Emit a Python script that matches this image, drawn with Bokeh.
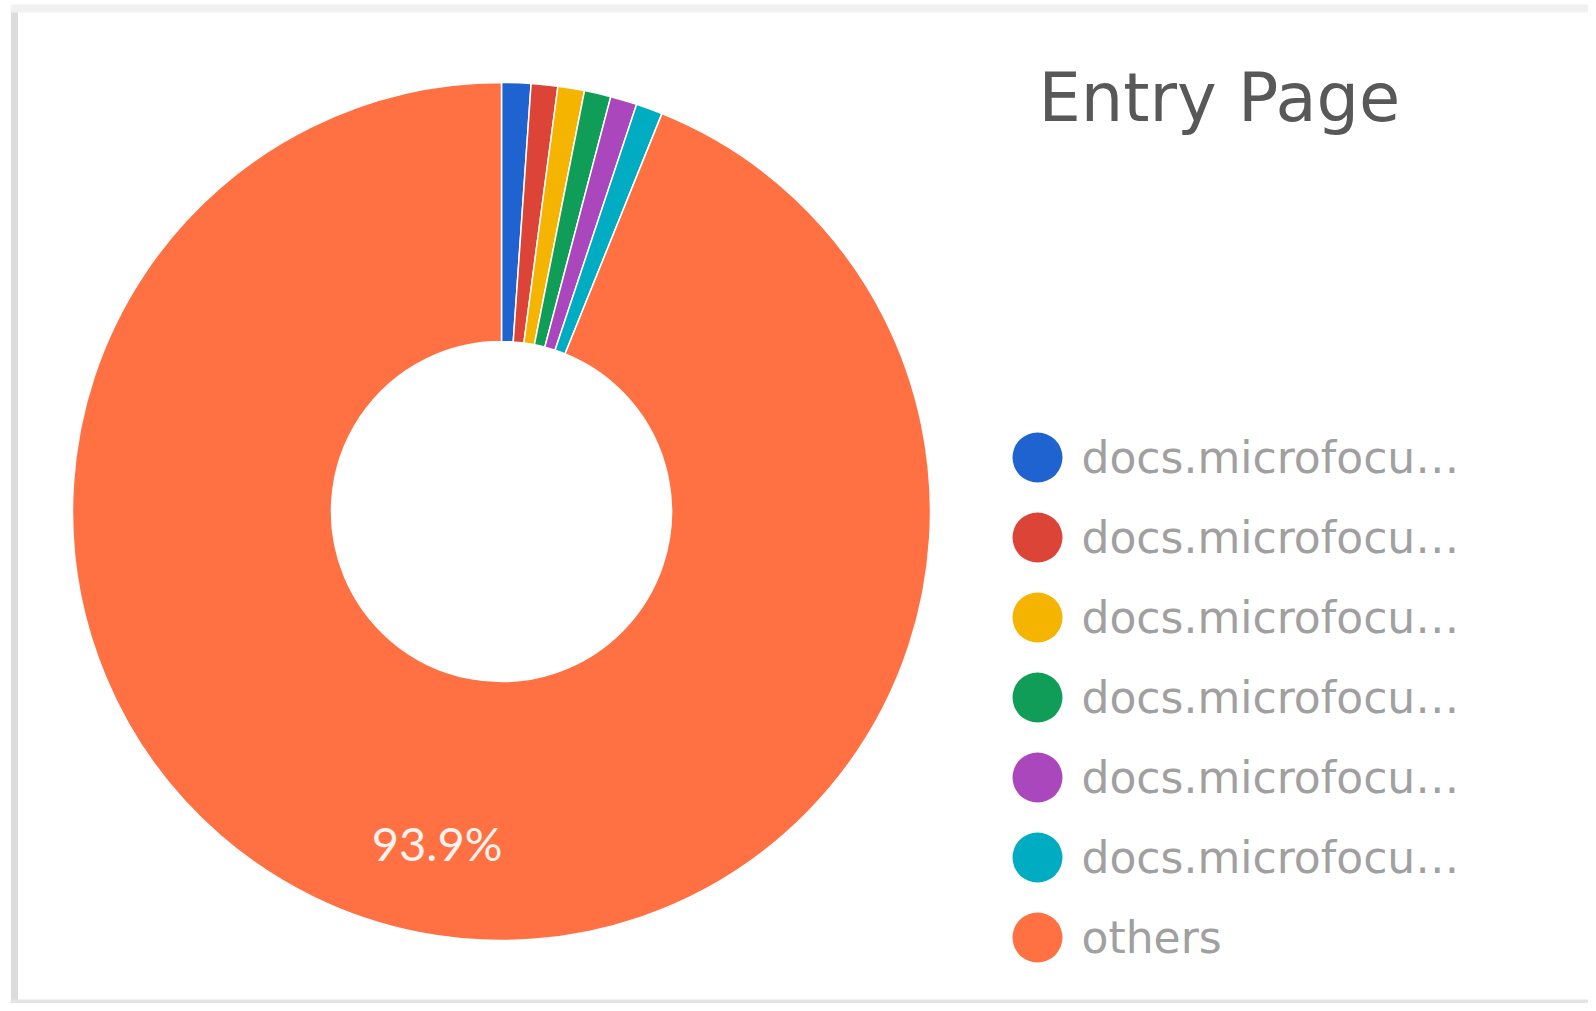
import math
from bokeh.plotting import figure
from bokeh.models import Range1d, ColumnDataSource
from bokeh.core.properties import value
from bokeh.embed import file_html
from bokeh.resources import INLINE

# ---- data ----
labels = ["docs.microfocu\u2026", "docs.microfocu\u2026", "docs.microfocu\u2026",
          "docs.microfocu\u2026", "docs.microfocu\u2026", "docs.microfocu\u2026", "others"]
shares = [1.1, 1.0, 1.0, 1.0, 1.0, 1.0, 93.9]
colors = ["#1E63CF", "#DB4437", "#F4B400", "#0F9D58", "#AB47BC", "#00ACC1", "#FF7043"]
title_text = "Entry Page"

W, HT = 1588, 1003
H = 1011
def sy(y):
    return H - y

p = figure(width=W, height=HT, output_backend="svg", toolbar_location=None,
           x_range=Range1d(0, W), y_range=Range1d(H - HT, H),
           min_border=0, border_fill_color="white", background_fill_color="white")
p.outline_line_color = None
p.axis.visible = False
p.grid.visible = False

# card border
p.segment(x0=[14], y0=[sy(1001)], x1=[14], y1=[sy(6)], line_color="#dcdcdc", line_width=7)
p.segment(x0=[10], y0=[sy(8)], x1=[W], y1=[sy(8)], line_color="#f1f1f1", line_width=8)
p.segment(x0=[10], y0=[sy(1001)], x1=[W], y1=[sy(1001)], line_color="#e4e4e4", line_width=4)

# donut
cx, cy = 501, sy(511)
r_out, r_in = 429, 170
total = sum(shares)
starts, ends = [], []
cum = 0.0
for s in shares:
    starts.append(math.pi / 2 - 2 * math.pi * cum / total)
    cum += s
    ends.append(math.pi / 2 - 2 * math.pi * cum / total)

src = ColumnDataSource(dict(start=starts, end=ends, color=colors))
p.annular_wedge(x=cx, y=cy, inner_radius=r_in, outer_radius=r_out,
                start_angle="start", end_angle="end", direction="clock",
                fill_color="color", line_color="white", line_width=1.5, source=src)

# percentage label on largest slice
big = shares.index(max(shares))
mid = (starts[big] + ends[big]) / 2
lr = 338
p.text(x=[cx + lr * math.cos(mid)], y=[cy + lr * math.sin(mid)],
       text=[f"{shares[big] / total * 100:.1f}%"],
       text_color="#fff3ee", text_font=value("Lato"), text_font_size="47px",
       text_align="center", text_baseline="middle")

# title
p.text(x=[1038], y=[sy(97)], text=[title_text], text_color="#585858",
       text_font=value("DejaVu Sans"), text_font_size="67px",
       text_align="left", text_baseline="middle")

# legend
ly = [sy(457 + 80 * i) for i in range(len(labels))]
p.scatter(x=[1037] * len(labels), y=ly, size=50, marker="circle",
          fill_color=colors, line_color=None)
p.text(x=[1081] * len(labels), y=ly, text=labels, text_color="#a0a0a0",
       text_font=value("DejaVu Sans"), text_font_size="44px",
       text_align="left", text_baseline="middle")

open("out.html", "w").write(file_html(p, INLINE))
